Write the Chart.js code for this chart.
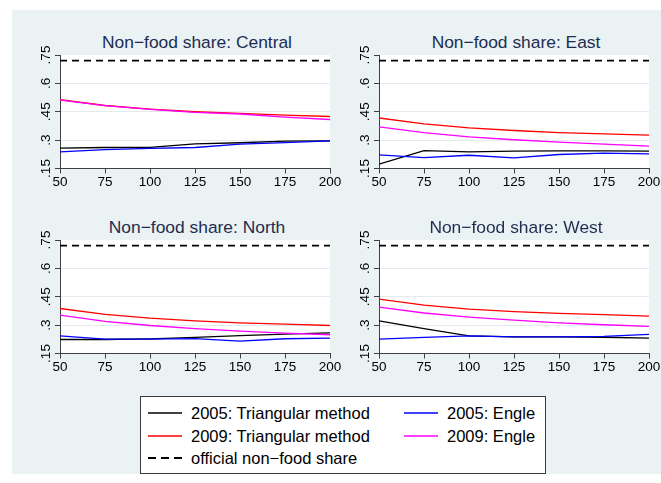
<!DOCTYPE html>
<html lang="en">
<head>
<meta charset="UTF-8">
<title>Non-food share</title>
<script src="https://cdn.jsdelivr.net/npm/chart.js"></script>
<style>
    body {
        margin: 0;
        width: 661px;
        height: 483px;
        background: #fff;
        position: relative;
        overflow: hidden;
        font-family: "Liberation Sans", Arial, sans-serif;
    }
    #bg {
        position: absolute;
        left: 12px; top: 10px;
        width: 649px; height: 464px;
        background: #EAF2F3;
    }
    canvas { position: absolute; }
    .ptitle {
        position: absolute;
        width: 330px;
        text-align: center;
        font-size: 17.4px;
        line-height: 20px;
        color: #1E2D52;
        white-space: nowrap;
    }
    #legend {
        position: absolute;
        left: 140px; top: 396px;
        width: 404px; height: 76px;
        background: #fff;
        border: 1px solid #3a3a3a;
    }
    .litem {
        position: absolute;
        font-size: 16.5px;
        line-height: 20px;
        color: #000;
        white-space: nowrap;
    }
    .litem svg { position: absolute; }
</style>
</head>
<body>
<div id="bg"></div>
<div id="legend"></div>

<script>
    // x values (sample size) and axis ticks
    const xValues = [50, 75, 100, 125, 150, 175, 200];
    const xTicks = [50, 75, 100, 125, 150, 175, 200];
    const yTicks = [0.15, 0.3, 0.45, 0.6, 0.75];

    const regions = ['Central', 'East', 'North', 'West'];

    // one row per region, same order as regions
    const tri2005 = [
        [0.258, 0.261, 0.262, 0.280, 0.286, 0.295, 0.296],
        [0.173, 0.245, 0.238, 0.242, 0.243, 0.243, 0.242],
        [0.224, 0.224, 0.227, 0.235, 0.245, 0.252, 0.259],
        [0.323, 0.282, 0.243, 0.238, 0.238, 0.236, 0.231]
    ];
    const tri2009 = [
        [0.514, 0.483, 0.464, 0.450, 0.441, 0.432, 0.425],
        [0.417, 0.386, 0.365, 0.351, 0.340, 0.333, 0.326],
        [0.388, 0.357, 0.337, 0.323, 0.312, 0.305, 0.298],
        [0.438, 0.406, 0.385, 0.371, 0.362, 0.355, 0.348]
    ];
    const engle2005 = [
        [0.238, 0.250, 0.256, 0.261, 0.279, 0.287, 0.296],
        [0.222, 0.208, 0.220, 0.206, 0.224, 0.231, 0.227],
        [0.243, 0.226, 0.226, 0.229, 0.215, 0.228, 0.231],
        [0.226, 0.235, 0.243, 0.238, 0.238, 0.240, 0.251]
    ];
    const engle2009 = [
        [0.512, 0.482, 0.463, 0.447, 0.438, 0.422, 0.409],
        [0.370, 0.340, 0.317, 0.302, 0.289, 0.279, 0.268],
        [0.353, 0.320, 0.298, 0.282, 0.268, 0.258, 0.249],
        [0.395, 0.364, 0.342, 0.326, 0.312, 0.302, 0.293]
    ];
    const official = [0.72, 0.72, 0.72, 0.72];

    const seriesNames = ['2005: Triangular method', '2009: Triangular method',
                         '2005: Engle', '2009: Engle', 'official non\u2212food share'];
    const seriesColors = ['#000000', '#FF0000', '#0000FF', '#FF00FF', '#000000'];

    const FONT = '"Liberation Sans", Arial, sans-serif';

    // panel placement: canvas position on the page
    const panelPos = [
        { left: 12, top: 45 },
        { left: 331, top: 45 },
        { left: 12, top: 230 },
        { left: 331, top: 230 }
    ];

    function fmtY(v) {
        return String(+v.toFixed(2)).replace(/^0\./, '.');
    }

    // white plot region
    const plotBg = {
        id: 'plotBg',
        beforeDraw(chart) {
            const a = chart.chartArea, ctx = chart.ctx;
            ctx.save();
            ctx.fillStyle = '#fff';
            ctx.fillRect(a.left, a.top, a.right - a.left, a.bottom - a.top);
            ctx.restore();
        }
    };

    // rotated y tick labels like Stata
    const yLabels = {
        id: 'yLabels',
        afterDraw(chart) {
            const s = chart.scales.y, ctx = chart.ctx;
            ctx.save();
            ctx.font = '13.5px ' + FONT;
            ctx.fillStyle = '#000';
            ctx.textAlign = 'center';
            ctx.textBaseline = 'alphabetic';
            s.ticks.forEach(t => {
                const py = s.getPixelForValue(t.value);
                ctx.save();
                ctx.translate(s.right - 10, py);
                ctx.rotate(-Math.PI / 2);
                ctx.fillText(fmtY(t.value), 0, 0);
                ctx.restore();
            });
            ctx.restore();
        }
    };

    function pts(arr) {
        return xValues.map((x, i) => ({ x: x, y: arr[i] }));
    }

    regions.forEach((name, r) => {
        const pos = panelPos[r];

        const t = document.createElement('div');
        t.className = 'ptitle';
        t.style.left = (pos.left + 20) + 'px';
        t.style.top = (pos.top - 13) + 'px';
        t.textContent = 'Non\u2212food share: ' + name;
        document.body.appendChild(t);

        const cv = document.createElement('canvas');
        cv.width = 330;
        cv.height = 150;
        cv.style.left = pos.left + 'px';
        cv.style.top = pos.top + 'px';
        document.body.appendChild(cv);

        const lines = [tri2005[r], tri2009[r], engle2005[r], engle2009[r]];
        const datasets = lines.map((arr, i) => ({
            label: seriesNames[i],
            data: pts(arr),
            borderColor: seriesColors[i],
            borderWidth: 1.3,
            pointRadius: 0,
            fill: false,
            tension: 0,
            order: 4 - i
        }));
        datasets.push({
            label: seriesNames[4],
            data: [{ x: xValues[0], y: official[r] }, { x: xValues[xValues.length - 1], y: official[r] }],
            borderColor: seriesColors[4],
            borderWidth: 1.8,
            borderDash: [7, 5],
            pointRadius: 0,
            fill: false,
            order: 0
        });

        new Chart(cv, {
            type: 'line',
            data: { datasets: datasets },
            options: {
                responsive: false,
                animation: false,
                devicePixelRatio: 1,
                layout: { padding: { left: 0, right: 12, top: 10, bottom: 4.5 } },
                plugins: { legend: { display: false }, tooltip: { enabled: false } },
                scales: {
                    x: {
                        type: 'linear',
                        min: 50, max: 200,
                        afterBuildTicks: s => { s.ticks = xTicks.map(v => ({ value: v })); },
                        afterFit: s => { s.height = 22; s.paddingLeft = 0; s.paddingRight = 0; },
                        ticks: { color: '#000', font: { size: 13.5, family: FONT }, padding: 1, maxRotation: 0 },
                        grid: { drawOnChartArea: false, drawTicks: true, tickLength: 5, tickColor: '#404040' },
                        border: { color: '#404040', width: 1 }
                    },
                    y: {
                        min: 0.15, max: 0.75,
                        afterBuildTicks: s => { s.ticks = yTicks.map(v => ({ value: v })); },
                        afterFit: s => { s.width = 48; s.paddingTop = 0; s.paddingBottom = 0; },
                        ticks: { display: false },
                        grid: {
                            color: c => (c.tick && (c.tick.value === 0.15 || c.tick.value === 0.75)) ? 'rgba(0,0,0,0)' : '#E3EBEE',
                            lineWidth: 1,
                            drawTicks: true,
                            tickLength: 5,
                            tickColor: '#404040'
                        },
                        border: { color: '#404040', width: 1 }
                    }
                }
            },
            plugins: [plotBg, yLabels]
        });
    });

    // legend: two columns, third row holds the official share
    const legendSlots = [
        { s: 0, col: 0, row: 0 }, { s: 2, col: 1, row: 0 },
        { s: 1, col: 0, row: 1 }, { s: 3, col: 1, row: 1 },
        { s: 4, col: 0, row: 2 }
    ];
    const legend = document.getElementById('legend');
    legendSlots.forEach(slot => {
        const item = document.createElement('div');
        item.className = 'litem';
        item.style.left = (slot.col === 0 ? 6 : 262) + 'px';
        item.style.top = (6 + slot.row * 22.7) + 'px';
        item.style.paddingLeft = '44px';
        const dash = slot.s === 4 ? 'stroke-dasharray="8 5"' : '';
        const w = slot.s === 4 ? 2 : 1.3;
        item.innerHTML = '<svg width="36" height="20" style="left:0;top:0">' +
            '<line x1="1" y1="10" x2="35" y2="10" stroke="' + seriesColors[slot.s] +
            '" stroke-width="' + w + '" ' + dash + '/></svg>';
        item.appendChild(document.createTextNode(seriesNames[slot.s]));
        legend.appendChild(item);
    });
</script>
</body>
</html>
